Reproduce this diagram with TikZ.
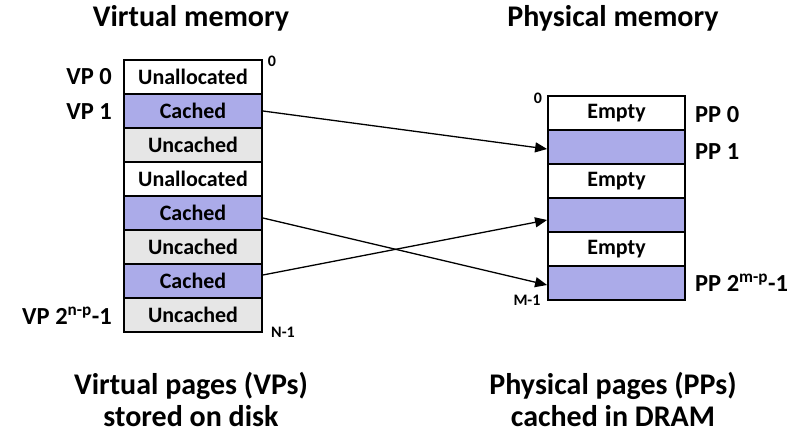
\documentclass[tikz,border=0pt]{standalone}
\usepackage{fontspec}
\setmainfont{Carlito}
\usetikzlibrary{arrows.meta,calc}
\definecolor{cachedc}{RGB}{171,171,233}
\definecolor{uncachedc}{RGB}{230,230,230}
\begin{document}
\begin{tikzpicture}[x=1pt,y=-1pt,
  rowbox/.style={draw=black,line width=1.8pt,minimum height=34pt,inner sep=0pt,font=\fontsize{22}{24}\selectfont\bfseries},
  lrow/.style={rowbox,minimum width=138pt},
  rrow/.style={rowbox,minimum width=137pt},
  cachedrow/.style={fill=cachedc},
  uncachedrow/.style={fill=uncachedc},
  emptyrow/.style={fill=white},
  title/.style={font=\fontsize{30}{34}\selectfont\bfseries,align=center,inner sep=0pt},
  lbl/.style={font=\fontsize{24.5}{28}\selectfont\bfseries,inner sep=0pt},
  small/.style={font=\fontsize{16}{18}\selectfont\bfseries,inner sep=0pt},
  map/.style={line width=1.3pt,-{Triangle[length=12pt,width=10pt]}}]
\useasboundingbox (0,0) rectangle (803,438);
% titles
\node[title] (vtitle) at (191,18) {Virtual memory};
\node[title] (ptitle) at (613,18) {Physical memory};
% virtual memory rows
\node[lrow,emptyrow] (v0) at (193,77) {Unallocated};
\node[lrow,cachedrow] (v1) at (193,111) {Cached};
\node[lrow,uncachedrow] (v2) at (193,145) {Uncached};
\node[lrow,emptyrow] (v3) at (193,179) {Unallocated};
\node[lrow,cachedrow] (v4) at (193,213) {Cached};
\node[lrow,uncachedrow] (v5) at (193,247) {Uncached};
\node[lrow,cachedrow] (v6) at (193,281) {Cached};
\node[lrow,uncachedrow] (v7) at (193,315) {Uncached};
% physical memory rows
\node[rrow,emptyrow] (p0) at (616.5,113) {Empty};
\node[rrow,cachedrow] (p1) at (616.5,147) {};
\node[rrow,emptyrow] (p2) at (616.5,181) {Empty};
\node[rrow,cachedrow] (p3) at (616.5,215) {};
\node[rrow,emptyrow] (p4) at (616.5,249) {Empty};
\node[rrow,cachedrow] (p5) at (616.5,283) {};
% labels
\node[lbl,anchor=east] (lvp0) at (112,77) {VP 0};
\node[lbl,anchor=east] (lvp1) at (112,112) {VP 1};
\node[lbl,anchor=east] (lvpn) at (112,316) {VP 2\textsuperscript{n-p}-1};
\node[small] (vzero) at (272,61) {0};
\node[small] (vn) at (283,332) {N-1};
\node[small] (pzero) at (538,98) {0};
\node[small] (pm) at (527,300) {M-1};
\node[lbl,anchor=west] (lpp0) at (695,115) {PP 0};
\node[lbl,anchor=west] (lpp1) at (695,152) {PP 1};
\node[lbl,anchor=west] (lppm) at (695,283) {PP 2\textsuperscript{m-p}-1};
% mappings
\draw[map] ($(v1.east)+(0,0)$) -- ($(p1.west)+(0,2)$);
\draw[map] ($(v4.east)+(0,5)$) -- ($(p5.west)+(0,2)$);
\draw[map] ($(v6.east)+(0,-6)$) -- ($(p3.west)+(0,5)$);
% bottom captions
\node[title] (vcap) at (191,399) {Virtual pages (VPs)\\[-2pt]stored on disk};
\node[title] (pcap) at (613,399) {Physical pages (PPs)\\[-2pt]cached in DRAM};
\end{tikzpicture}
\end{document}
